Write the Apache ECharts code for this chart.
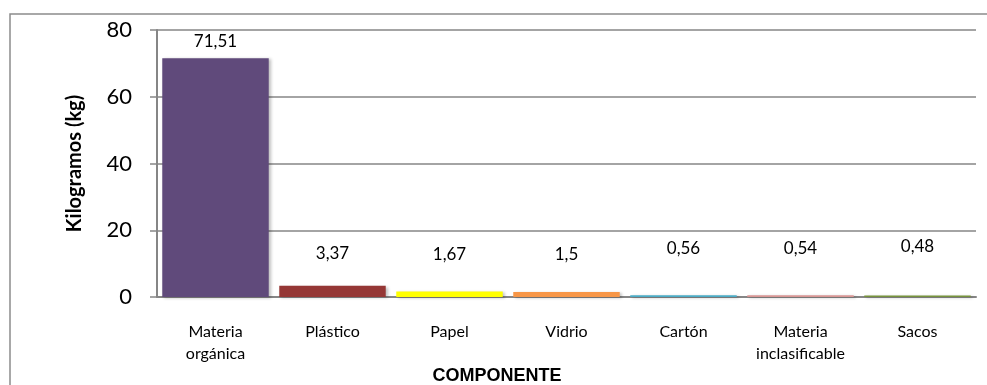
<!DOCTYPE html>
<html>
<head>
<meta charset="utf-8">
<script src="https://cdn.jsdelivr.net/npm/echarts@6/dist/echarts.min.js"></script>
<style>
html,body{margin:0;padding:0;background:#fff;}
#chart{width:987px;height:385px;}
</style>
</head>
<body>
<div id="chart"></div>
<script>
const categories = ['Materia\norgánica', 'Plástico', 'Papel', 'Vidrio', 'Cartón', 'Materia\ninclasificable', 'Sacos'];
const values = [71.51, 3.37, 1.67, 1.5, 0.56, 0.54, 0.48];
const yTicks = [0, 20, 40, 60, 80];

// styles
const barColors = ['#604A7B', '#953735', '#FFFF00', '#F79646', '#4BACC6', '#D99694', '#77933C'];
const labelDistances = [8, 24, 28, 29, 38, 38, 40];

const chart = echarts.init(document.getElementById('chart'));
chart.setOption({
  animation: false,
  grid: { left: 157, right: 11, top: 30, bottom: 88, containLabel: false },
  graphic: [
    { type: 'rect', shape: { x: 10, y: 14, width: 1000, height: 420 },
      style: { fill: 'none', stroke: '#8c8c8c', lineWidth: 1.5 }, z: -1 },
    { type: 'text', x: 497, y: 376,
      style: { text: 'COMPONENTE', align: 'center', verticalAlign: 'middle',
        font: 'bold 18px "Liberation Sans", Arial, sans-serif', fill: '#000' } },
  ],
  xAxis: {
    type: 'category',
    data: categories,
    axisLine: { lineStyle: { color: '#868686', width: 2 } },
    axisTick: { show: false },
    axisLabel: { color: '#000', fontFamily: 'Lato, "Open Sans", sans-serif', fontSize: 16,
      lineHeight: 22, margin: 24, interval: 0 }
  },
  yAxis: {
    type: 'value',
    min: yTicks[0], max: yTicks[yTicks.length - 1], interval: 20,
    name: 'Kilogramos (kg)',
    nameLocation: 'middle',
    nameGap: 72,
    nameTextStyle: { fontFamily: 'Lato, "Open Sans", sans-serif', fontWeight: 'bold', fontSize: 20, color: '#000' },
    axisLine: { show: true, lineStyle: { color: '#868686', width: 2 } },
    axisTick: { show: true, length: 7, lineStyle: { color: '#868686', width: 1.5 } },
    splitLine: { lineStyle: { color: '#868686', width: 1.5 } },
    axisLabel: { color: '#000', fontFamily: 'Lato, "Open Sans", sans-serif', fontSize: 22, margin: 25 }
  },
  series: [{
    type: 'bar',
    barCategoryGap: '9%',
    data: values.map((v, i) => ({
      value: v,
      itemStyle: { color: barColors[i] },
      label: { distance: labelDistances[i] }
    })),
    itemStyle: { shadowBlur: 3, shadowOffsetX: 2, shadowOffsetY: 1, shadowColor: 'rgba(0,0,0,0.25)' },
    label: {
      show: true, position: 'top', color: '#000',
      fontFamily: 'Lato, "Open Sans", sans-serif', fontSize: 17,
      formatter: p => String(p.value).replace('.', ',')
    }
  }]
});
</script>
</body>
</html>
